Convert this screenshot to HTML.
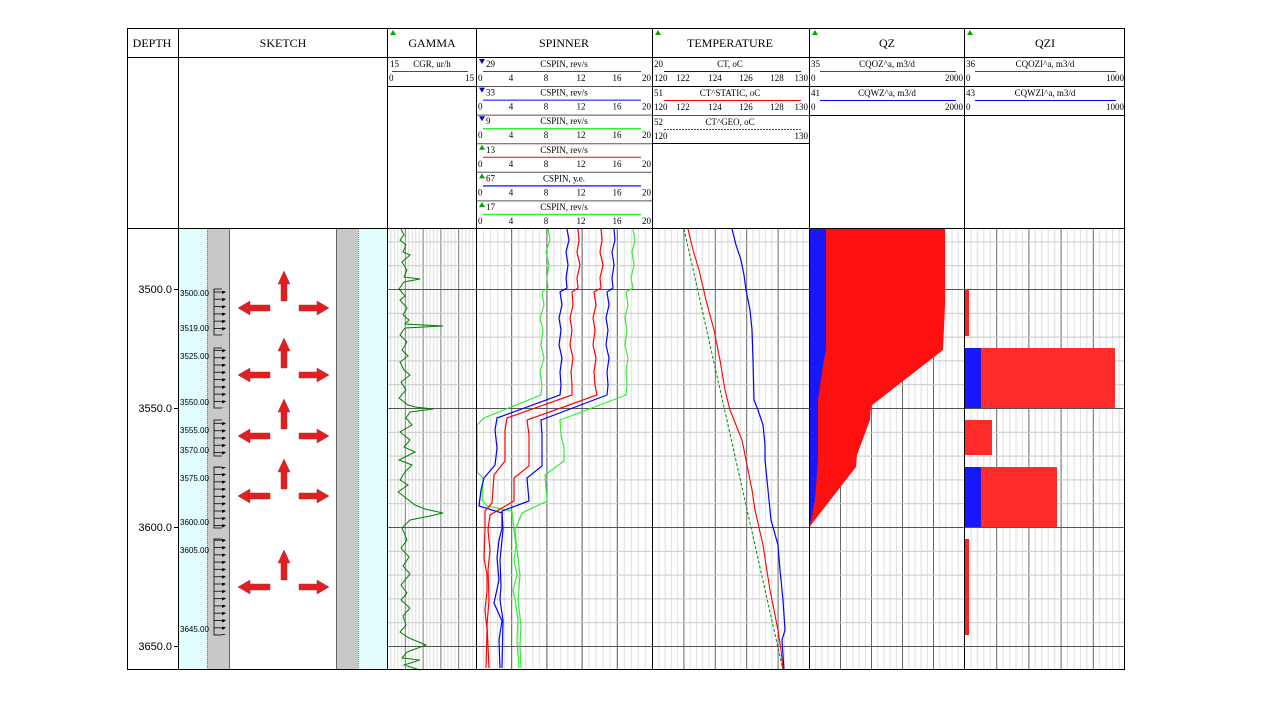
<!DOCTYPE html>
<html><head><meta charset="utf-8"><style>
html,body{margin:0;padding:0;background:#fff;}
svg{display:block;}
text{font-family:"Liberation Serif",serif;fill:#000;}
.s{font-family:"Liberation Sans",sans-serif;}
</style></head><body>
<svg width="1280" height="720" viewBox="0 0 1280 720" xmlns="http://www.w3.org/2000/svg">
<defs>
<pattern id="hg" patternUnits="userSpaceOnUse" width="2000" height="23.8" patternTransform="translate(0,241.4)">
<line x1="0" y1="0.5" x2="2000" y2="0.5" stroke="#c8c8c8" stroke-width="1"/>
</pattern>
<pattern id="vg" patternUnits="userSpaceOnUse" width="17.8" height="10" patternTransform="translate(387,0)">
<line x1="0.5" y1="0" x2="0.5" y2="10" stroke="#777"/>
<line x1="4" y1="0" x2="4" y2="10" stroke="#ddd"/><line x1="7.5" y1="0" x2="7.5" y2="10" stroke="#ddd"/>
<line x1="11" y1="0" x2="11" y2="10" stroke="#ddd"/><line x1="14.5" y1="0" x2="14.5" y2="10" stroke="#ddd"/>
</pattern>
<pattern id="vs" patternUnits="userSpaceOnUse" width="35.2" height="10" patternTransform="translate(476,0)">
<line x1="0.5" y1="0" x2="0.5" y2="10" stroke="#555"/>
<line x1="7.5" y1="0" x2="7.5" y2="10" stroke="#ddd"/><line x1="14.5" y1="0" x2="14.5" y2="10" stroke="#ddd"/>
<line x1="21.5" y1="0" x2="21.5" y2="10" stroke="#ddd"/><line x1="28.5" y1="0" x2="28.5" y2="10" stroke="#ddd"/>
</pattern>
<pattern id="vt" patternUnits="userSpaceOnUse" width="31.4" height="10" patternTransform="translate(652,0)">
<line x1="0.5" y1="0" x2="0.5" y2="10" stroke="#666"/>
<line x1="6.8" y1="0" x2="6.8" y2="10" stroke="#ddd"/><line x1="13.1" y1="0" x2="13.1" y2="10" stroke="#ddd"/>
<line x1="19.3" y1="0" x2="19.3" y2="10" stroke="#ddd"/><line x1="25.6" y1="0" x2="25.6" y2="10" stroke="#ddd"/>
</pattern>
<pattern id="vq" patternUnits="userSpaceOnUse" width="31" height="10" patternTransform="translate(809,0)">
<line x1="0.5" y1="0" x2="0.5" y2="10" stroke="#666"/>
<line x1="6.7" y1="0" x2="6.7" y2="10" stroke="#ddd"/><line x1="12.9" y1="0" x2="12.9" y2="10" stroke="#ddd"/>
<line x1="19.1" y1="0" x2="19.1" y2="10" stroke="#ddd"/><line x1="25.3" y1="0" x2="25.3" y2="10" stroke="#ddd"/>
</pattern>
<pattern id="vi" patternUnits="userSpaceOnUse" width="32.2" height="10" patternTransform="translate(964,0)">
<line x1="0.5" y1="0" x2="0.5" y2="10" stroke="#666"/>
<line x1="6.9" y1="0" x2="6.9" y2="10" stroke="#ddd"/><line x1="13.4" y1="0" x2="13.4" y2="10" stroke="#ddd"/>
<line x1="19.8" y1="0" x2="19.8" y2="10" stroke="#ddd"/><line x1="26.3" y1="0" x2="26.3" y2="10" stroke="#ddd"/>
</pattern>
<pattern id="tk" patternUnits="userSpaceOnUse" width="20" height="7.3" patternTransform="translate(214,291)">
<line x1="0" y1="1" x2="10" y2="1" stroke="#000" stroke-width="0.8"/>
<polygon points="8,-1 12,1 8,3" fill="#000"/>
</pattern>
</defs>

<!-- sketch background -->
<rect x="179" y="229" width="28" height="441" fill="#e2fdfd"/>
<rect x="207" y="229" width="22" height="441" fill="#c8c8c8"/>
<rect x="336" y="229" width="22" height="441" fill="#c8c8c8"/>
<rect x="358" y="229" width="29" height="441" fill="#e2fdfd"/>
<line x1="207.5" y1="229" x2="207.5" y2="670" stroke="#777" stroke-dasharray="1,1"/>
<line x1="229.5" y1="229" x2="229.5" y2="670" stroke="#666"/>
<line x1="336.5" y1="229" x2="336.5" y2="670" stroke="#666"/>
<line x1="358.5" y1="229" x2="358.5" y2="670" stroke="#777" stroke-dasharray="1,1"/>

<!-- perforation brackets -->
<g fill="url(#tk)" stroke="none">
<rect x="214" y="289" width="14" height="46"/>
<rect x="214" y="348" width="14" height="60"/>
<rect x="214" y="420" width="14" height="36"/>
<rect x="214" y="467" width="14" height="61"/>
<rect x="214" y="539" width="14" height="96"/>
</g>
<g stroke="#000" stroke-width="0.8" fill="none">
<polyline points="222,289 214,289 214,335 222,335"/>
<polyline points="222,348 214,348 214,408 222,408"/>
<polyline points="222,420 214,420 214,456 222,456"/>
<polyline points="222,467 214,467 214,528 222,528"/>
<polyline points="222,539 214,539 214,635 222,635"/>
</g>
<g class="s" font-size="8" fill="#000">
<text x="180" y="296" class="s" font-size="8">3500.00</text>
<text x="180" y="331" class="s" font-size="8">3519.00</text>
<text x="180" y="359" class="s" font-size="8">3525.00</text>
<text x="180" y="405" class="s" font-size="8">3550.00</text>
<text x="180" y="433" class="s" font-size="8">3555.00</text>
<text x="180" y="453" class="s" font-size="8">3570.00</text>
<text x="180" y="481" class="s" font-size="8">3575.00</text>
<text x="180" y="525" class="s" font-size="8">3600.00</text>
<text x="180" y="553" class="s" font-size="8">3605.00</text>
<text x="180" y="632" class="s" font-size="8">3645.00</text>
</g>

<!-- arrows -->
<g fill="#e02020" stroke="#a33" stroke-width="0.5">
<g id="ar" transform="translate(0,308)">
<polygon points="238,0 250,-7 250,-3 270,-3 270,3 250,3 250,7"/>
<polygon points="329,0 317,-7 317,-3 299,-3 299,3 317,3 317,7"/>
<polygon points="284,-37 290,-24 287,-24 287,-7 281,-7 281,-24 278,-24"/>
</g>
<use href="#ar" transform="translate(0,67)"/>
<use href="#ar" transform="translate(0,128)"/>
<use href="#ar" transform="translate(0,188)"/>
<use href="#ar" transform="translate(0,279)"/>
</g>

<!-- grids -->
<rect x="387" y="229" width="89" height="441" fill="url(#vg)"/>
<rect x="476" y="229" width="176" height="441" fill="url(#vs)"/>
<rect x="652" y="229" width="157" height="441" fill="url(#vt)"/>
<rect x="809" y="229" width="155" height="441" fill="url(#vq)"/>
<rect x="964" y="229" width="161" height="441" fill="url(#vi)"/>
<rect x="387" y="229" width="738" height="441" fill="url(#hg)"/>
<g stroke="#555" stroke-width="1">
<line x1="387" y1="289.5" x2="1125" y2="289.5"/>
<line x1="387" y1="408.5" x2="1125" y2="408.5"/>
<line x1="387" y1="527.5" x2="1125" y2="527.5"/>
<line x1="387" y1="646.5" x2="1125" y2="646.5"/>
</g>
<!-- depth ticks -->
<g stroke="#000"><line x1="174" y1="289.5" x2="178" y2="289.5"/><line x1="174" y1="408.5" x2="178" y2="408.5"/><line x1="174" y1="527.5" x2="178" y2="527.5"/><line x1="174" y1="646.5" x2="178" y2="646.5"/></g>
<g font-size="11" text-anchor="end">
<text class="s" x="172" y="293" font-size="11">3500.0</text>
<text class="s" x="172" y="412" font-size="11">3550.0</text>
<text class="s" x="172" y="531" font-size="11">3600.0</text>
<text class="s" x="172" y="650" font-size="11">3650.0</text>
</g>

<!-- QZ fills -->
<polygon fill="#ff1010" points="826,229 945,229 945,305 943,350 871,406 870,420 857,455 856,467 811,525 810,527 810,620 809,620 809,229"/>
<polygon fill="#1818ff" points="809,229 826,229 826,350 824,360 818,400 818,460 815,500 810,525 809,527"/>
<!-- QZI bars -->
<rect x="964" y="289" width="5" height="47" fill="#ff2020"/>
<rect x="964" y="348" width="17" height="60" fill="#1818ff"/>
<rect x="981" y="348" width="134" height="60" fill="#ff2a2a"/>
<rect x="964" y="420" width="28" height="35" fill="#ff2a2a"/>
<rect x="964" y="467" width="17" height="60" fill="#1818ff"/>
<rect x="981" y="467" width="76" height="60" fill="#ff2a2a"/>
<rect x="964" y="539" width="5" height="96" fill="#ff2020"/>

<!-- gamma -->
<polyline fill="none" stroke="#008000" stroke-width="1" points="401,229 404,235 400,240 406,245 403,252 410,255 402,262 407,270 404,277 420,279 404,282 399,289 405,296 400,300 407,308 403,315 409,320 405,324 443,326 405,328 400,335 407,342 402,350 408,356 400,362 404,370 410,375 401,382 406,390 399,398 408,405 415,407 433,409 410,412 406,418 412,425 400,432 410,440 404,447 415,452 399,460 412,465 405,472 400,480 408,485 398,492 406,498 415,505 425,509 443,513 430,516 410,520 402,528 407,540 401,548 409,557 403,566 410,574 401,585 407,593 401,600 410,608 403,616 406,625 400,632 409,638 426,645 407,652 402,658 420,660 404,665 420,670"/>

<!-- spinner -->
<g fill="none" stroke-width="1.2">
<polyline stroke="#33ee33" points="548,229 550,240 546,252 549,265 547,278 548,288 542,292 544,305 540,318 543,330 541,345 544,358 540,372 542,385 541,395 484,418 477,425 477,448 477,472 483,478 482,500 487,506 512,511 514,530 516,545 514,560 517,575 513,590 516,605 518,620 517,640 519,668"/>
<polyline stroke="#0000ff" points="567,229 569,240 566,252 568,265 566,278 567,288 560,292 562,305 559,318 561,330 559,345 562,358 560,372 561,385 560,395 497,418 495,430 497,448 495,465 484,478 481,490 479,506 502,513 502,528 499,540 497,558 499,580 494,603 502,621 499,640 500,668"/>
<polyline stroke="#ff0000" points="578,229 579,240 577,252 580,265 577,278 578,288 572,292 573,305 570,318 572,330 570,345 573,358 571,372 572,385 572,395 507,418 505,430 505,448 505,461 494,475 492,503 485,511 485,530 484,558 487,575 487,591 485,610 487,630 486,668"/>
<polyline stroke="#ff0000" points="601,229 602,240 600,252 603,265 600,278 601,288 594,292 596,305 593,318 595,330 593,345 596,358 594,372 595,385 597,395 527,420 529,435 529,448 529,466 514,478 514,501 502,508 490,515 488,530 490,550 488,570 489,600 487,625 489,668"/>
<polyline stroke="#0000ff" points="614,229 615,240 612,252 614,265 612,278 613,288 607,292 609,305 606,318 608,330 606,345 609,358 607,372 608,385 607,395 541,420 542,435 542,448 542,466 527,478 529,501 502,511 503,530 500,560 501,585 500,600 503,620 502,668"/>
<polyline stroke="#33ee33" points="633,229 635,240 632,252 634,265 631,278 633,288 626,292 628,305 625,318 627,330 625,345 628,358 626,372 627,385 626,395 560,420 561,435 564,448 564,461 545,475 547,501 522,513 515,530 517,550 520,575 518,600 521,625 520,645 521,668"/>
</g>

<!-- temperature -->
<polyline fill="none" stroke="#0000ff" stroke-width="1.2" points="732,229 736,245 741,260 744,275 746,290 750,310 752,330 753,360 754,400 758,410 763,425 765,445 765,460 768,490 771,520 778,545 780,570 783,600 785,630 782,640 784,670"/>
<polyline fill="none" stroke="#ff0000" stroke-width="1.1" points="688,229 693,250 699,270 706,300 714,330 720,360 725,390 730,410 736,425 742,440 748,470 752,490 755,510 763,545 766,565 770,590 774,610 778,630 781,650 783,670"/>
<line x1="684" y1="229" x2="783" y2="670" stroke="#008800" stroke-width="1" stroke-dasharray="3,2"/>

<!-- header legends -->
<g font-size="9">
<!-- gamma -->
<text x="390" y="67">15</text><text x="432" y="67" text-anchor="middle">CGR, ur/h</text>
<line x1="392" y1="71.5" x2="468" y2="71.5" stroke="#008000"/>
<text x="389" y="81">0</text><text x="474" y="81" text-anchor="end">15</text>
<line x1="387" y1="86.5" x2="476" y2="86.5" stroke="#000"/>
</g>

<g font-size="9" id="sp0">
<text x="486" y="67">29</text><text x="564" y="67" text-anchor="middle">CSPIN, rev/s</text>
<line x1="483" y1="71.5" x2="641" y2="71.5" stroke="#ff0000"/>
<text x="478" y="81">0</text><text x="511" y="81" text-anchor="middle">4</text><text x="546" y="81" text-anchor="middle">8</text><text x="581" y="81" text-anchor="middle">12</text><text x="617" y="81" text-anchor="middle">16</text><text x="651" y="81" text-anchor="end">20</text>
<line x1="476" y1="86.5" x2="652" y2="86.5" stroke="#555"/>
</g>
<g font-size="9" transform="translate(0,28.6)">
<text x="486" y="67">33</text><text x="564" y="67" text-anchor="middle">CSPIN, rev/s</text>
<line x1="483" y1="71.5" x2="641" y2="71.5" stroke="#0000ff"/>
<text x="478" y="81">0</text><text x="511" y="81" text-anchor="middle">4</text><text x="546" y="81" text-anchor="middle">8</text><text x="581" y="81" text-anchor="middle">12</text><text x="617" y="81" text-anchor="middle">16</text><text x="651" y="81" text-anchor="end">20</text>
<line x1="476" y1="86.5" x2="652" y2="86.5" stroke="#555"/>
</g>
<g font-size="9" transform="translate(0,57.2)">
<text x="486" y="67">9</text><text x="564" y="67" text-anchor="middle">CSPIN, rev/s</text>
<line x1="483" y1="71.5" x2="641" y2="71.5" stroke="#33ee33" stroke-width="1.5"/>
<text x="478" y="81">0</text><text x="511" y="81" text-anchor="middle">4</text><text x="546" y="81" text-anchor="middle">8</text><text x="581" y="81" text-anchor="middle">12</text><text x="617" y="81" text-anchor="middle">16</text><text x="651" y="81" text-anchor="end">20</text>
<line x1="476" y1="86.5" x2="652" y2="86.5" stroke="#555"/>
</g>
<g font-size="9" transform="translate(0,85.8)">
<text x="486" y="67">13</text><text x="564" y="67" text-anchor="middle">CSPIN, rev/s</text>
<line x1="483" y1="71.5" x2="641" y2="71.5" stroke="#ff0000"/>
<text x="478" y="81">0</text><text x="511" y="81" text-anchor="middle">4</text><text x="546" y="81" text-anchor="middle">8</text><text x="581" y="81" text-anchor="middle">12</text><text x="617" y="81" text-anchor="middle">16</text><text x="651" y="81" text-anchor="end">20</text>
<line x1="476" y1="86.5" x2="652" y2="86.5" stroke="#555"/>
</g>
<g font-size="9" transform="translate(0,114.4)">
<text x="486" y="67">67</text><text x="564" y="67" text-anchor="middle">CSPIN, у.е.</text>
<line x1="483" y1="71.5" x2="641" y2="71.5" stroke="#3333ff" stroke-width="1.5"/>
<text x="478" y="81">0</text><text x="511" y="81" text-anchor="middle">4</text><text x="546" y="81" text-anchor="middle">8</text><text x="581" y="81" text-anchor="middle">12</text><text x="617" y="81" text-anchor="middle">16</text><text x="651" y="81" text-anchor="end">20</text>
<line x1="476" y1="86.5" x2="652" y2="86.5" stroke="#555"/>
</g>
<g font-size="9" transform="translate(0,143)">
<text x="486" y="67">17</text><text x="564" y="67" text-anchor="middle">CSPIN, rev/s</text>
<line x1="483" y1="71.5" x2="641" y2="71.5" stroke="#33ee33" stroke-width="1.5"/>
<text x="478" y="81">0</text><text x="511" y="81" text-anchor="middle">4</text><text x="546" y="81" text-anchor="middle">8</text><text x="581" y="81" text-anchor="middle">12</text><text x="617" y="81" text-anchor="middle">16</text><text x="651" y="81" text-anchor="end">20</text>
</g>
<!-- spinner triangles -->
<polygon points="479,59 485,59 482,64" fill="#0000cc"/>
<polygon points="479,87.6 485,87.6 482,92.6" fill="#0000cc"/>
<polygon points="479,116.2 485,116.2 482,121.2" fill="#0000cc"/>
<polygon points="479,149.8 485,149.8 482,144.8" fill="#00aa00"/>
<polygon points="479,178.4 485,178.4 482,173.4" fill="#00aa00"/>
<polygon points="479,207 485,207 482,202" fill="#00aa00"/>

<!-- temperature legend -->
<g font-size="9">
<text x="654" y="67">20</text><text x="730" y="67" text-anchor="middle">CT, oC</text>
<line x1="664" y1="71.5" x2="801" y2="71.5" stroke="#0000ff"/>
<text x="654" y="81">120</text><text x="683" y="81" text-anchor="middle">122</text><text x="715" y="81" text-anchor="middle">124</text><text x="746" y="81" text-anchor="middle">126</text><text x="777" y="81" text-anchor="middle">128</text><text x="808" y="81" text-anchor="end">130</text>
<line x1="652" y1="86.5" x2="809" y2="86.5" stroke="#000"/>
<text x="654" y="96">51</text><text x="730" y="96" text-anchor="middle">CT^STATIC, oC</text>
<line x1="664" y1="100.5" x2="801" y2="100.5" stroke="#ff0000"/>
<text x="654" y="110">120</text><text x="683" y="110" text-anchor="middle">122</text><text x="715" y="110" text-anchor="middle">124</text><text x="746" y="110" text-anchor="middle">126</text><text x="777" y="110" text-anchor="middle">128</text><text x="808" y="110" text-anchor="end">130</text>
<line x1="652" y1="115.5" x2="809" y2="115.5" stroke="#555"/>
<text x="654" y="125">52</text><text x="730" y="125" text-anchor="middle">CT^GEO, oC</text>
<line x1="664" y1="129.5" x2="801" y2="129.5" stroke="#008800" stroke-dasharray="2,1"/>
<text x="654" y="139">120</text><text x="808" y="139" text-anchor="end">130</text>
<line x1="652" y1="143.5" x2="809" y2="143.5" stroke="#000"/>
<!-- QZ -->
<text x="811" y="67">35</text><text x="887" y="67" text-anchor="middle">CQOZ^a, m3/d</text>
<line x1="820" y1="71.5" x2="956" y2="71.5" stroke="#ff0000"/>
<text x="811" y="81">0</text><text x="963" y="81" text-anchor="end">2000</text>
<line x1="809" y1="86.5" x2="964" y2="86.5" stroke="#000"/>
<text x="811" y="96">41</text><text x="887" y="96" text-anchor="middle">CQWZ^a, m3/d</text>
<line x1="820" y1="100.5" x2="956" y2="100.5" stroke="#0000ff"/>
<text x="811" y="110">0</text><text x="963" y="110" text-anchor="end">2000</text>
<line x1="809" y1="115.5" x2="964" y2="115.5" stroke="#000"/>
<!-- QZI -->
<text x="966" y="67">36</text><text x="1045" y="67" text-anchor="middle">CQOZI^a, m3/d</text>
<line x1="975" y1="71.5" x2="1116" y2="71.5" stroke="#ff0000"/>
<text x="966" y="81">0</text><text x="1124" y="81" text-anchor="end">1000</text>
<line x1="964" y1="86.5" x2="1125" y2="86.5" stroke="#000"/>
<text x="966" y="96">43</text><text x="1045" y="96" text-anchor="middle">CQWZI^a, m3/d</text>
<line x1="975" y1="100.5" x2="1116" y2="100.5" stroke="#0000ff"/>
<text x="966" y="110">0</text><text x="1124" y="110" text-anchor="end">1000</text>
<line x1="964" y1="115.5" x2="1125" y2="115.5" stroke="#000"/>
</g>

<!-- titles -->
<g font-size="12" text-anchor="middle">
<text x="152" y="47">DEPTH</text>
<text x="283" y="47">SKETCH</text>
<text x="432" y="47">GAMMA</text>
<text x="564" y="47">SPINNER</text>
<text x="730" y="47">TEMPERATURE</text>
<text x="887" y="47">QZ</text>
<text x="1045" y="47">QZI</text>
</g>
<g fill="#00aa00">
<polygon points="390,35 396,35 393,30"/>
<polygon points="655,35 661,35 658,30"/>
<polygon points="812,35 818,35 815,30"/>
<polygon points="967,35 973,35 970,30"/>
</g>

<!-- frame -->
<g stroke="#000" fill="none" stroke-width="1">
<rect x="127.5" y="28.5" width="997" height="641"/>
<line x1="127" y1="57.5" x2="1125" y2="57.5"/>
<line x1="127" y1="228.5" x2="1125" y2="228.5"/>
<line x1="178.5" y1="28" x2="178.5" y2="670"/>
<line x1="387.5" y1="28" x2="387.5" y2="670"/>
<line x1="476.5" y1="28" x2="476.5" y2="670"/>
<line x1="652.5" y1="28" x2="652.5" y2="670"/>
<line x1="809.5" y1="28" x2="809.5" y2="670"/>
<line x1="964.5" y1="28" x2="964.5" y2="670"/>
</g>
</svg>
</body></html>
